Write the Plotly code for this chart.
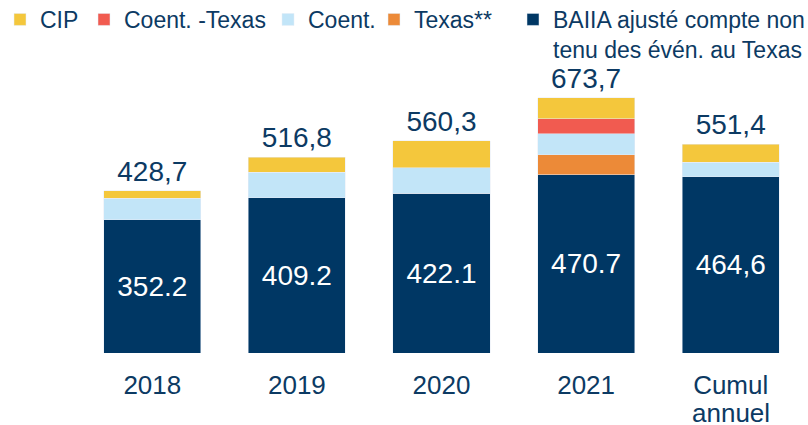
import plotly.graph_objects as go

categories = ["2018", "2019", "2020", "2021", "Cumul annuel"]
tick_first_line = ["2018", "2019", "2020", "2021", "Cumul"]
baiia = [352.2, 409.2, 422.1, 470.7, 464.6]
texas = [0, 0, 0, 52.6, 0]
coent = [56.0, 68.0, 67.0, 55.4, 38.6]
coent_texas = [0, 0, 0, 39.6, 0]
cip = [20.5, 39.6, 71.2, 55.4, 48.2]
baiia_labels = ["352.2", "409.2", "422.1", "470.7", "464,6"]

totals = [round(a + b + c + d + e, 1) for a, b, c, d, e in zip(baiia, texas, coent, coent_texas, cip)]
total_labels = [f"{t:.1f}".replace(".", ",") for t in totals]

NAVY = "#003764"
TEXT = "#0c3a63"
FONT = "Liberation Sans, Arial, sans-serif"

MARGIN_T, MARGIN_B = 60, 72
PLOT_H = 425 - MARGIN_T - MARGIN_B

fig = go.Figure()

def legend_cfg(xpx, valign="middle"):
    return dict(
        x=xpx / 808, y=1 + (MARGIN_T + 2) / PLOT_H, xref="container", yref="paper",
        xanchor="left", yanchor="top", orientation="h",
        font=dict(size=23, color=TEXT, family=FONT),
        bgcolor="rgba(0,0,0,0)", borderwidth=0, valign=valign,
        itemclick=False, itemdoubleclick=False,
    )

fig.add_trace(go.Bar(x=categories, y=baiia, name="BAIIA ajusté compte non<br>tenu des évén. au Texas",
                     marker_color=NAVY, text=baiia_labels, textposition="inside",
                     insidetextanchor="middle", textangle=0,
                     textfont=dict(size=28, color="white", family=FONT), legend="legend5"))
fig.add_trace(go.Bar(x=categories, y=texas, name="Texas**", marker_color="#ec8a38",
                     textposition="none", legend="legend4"))
fig.add_trace(go.Bar(x=categories, y=coent, name="Coent.", marker_color="#c2e5f8",
                     textposition="none", legend="legend3"))
fig.add_trace(go.Bar(x=categories, y=coent_texas, name="Coent. -Texas", marker_color="#f15b50",
                     textposition="none", legend="legend2"))
fig.add_trace(go.Bar(x=categories, y=cip, name="CIP", marker_color="#f4c73c",
                     textposition="none", legend="legend"))

fig.add_trace(go.Scatter(x=categories, y=totals, mode="markers+text", text=total_labels,
                         textposition="top center", showlegend=False, hoverinfo="skip",
                         marker=dict(size=3, color="rgba(0,0,0,0)"),
                         textfont=dict(size=28, color=TEXT, family=FONT), cliponaxis=False))

# second line of the last category label (tighter line spacing than a <br>)
fig.add_annotation(x=categories[-1], y=0, xref="x", yref="y", text="annuel",
                   showarrow=False, yanchor="top", yshift=-43,
                   font=dict(size=26, color=TEXT, family=FONT))

fig.update_layout(
    width=808, height=425,
    margin=dict(l=80, r=5, t=MARGIN_T, b=MARGIN_B, autoexpand=False),
    barmode="stack", bargap=0.329,
    plot_bgcolor="white", paper_bgcolor="white",
    font=dict(family=FONT, color=TEXT),
    legend=legend_cfg(0),
    legend2=legend_cfg(84),
    legend3=legend_cfg(268),
    legend4=legend_cfg(374),
    legend5=legend_cfg(513, valign="top"),
    xaxis=dict(tickfont=dict(size=26, color=TEXT, family=FONT), showline=False,
               showgrid=False, ticks="", zeroline=False, automargin=False,
               tickvals=categories, ticktext=tick_first_line, ticklabelstandoff=14),
    yaxis=dict(range=[0, 773], visible=False, showgrid=False, zeroline=False),
)

fig.write_html("out.html", config={"displayModeBar": False},
               post_script="document.body.style.margin='0';")
